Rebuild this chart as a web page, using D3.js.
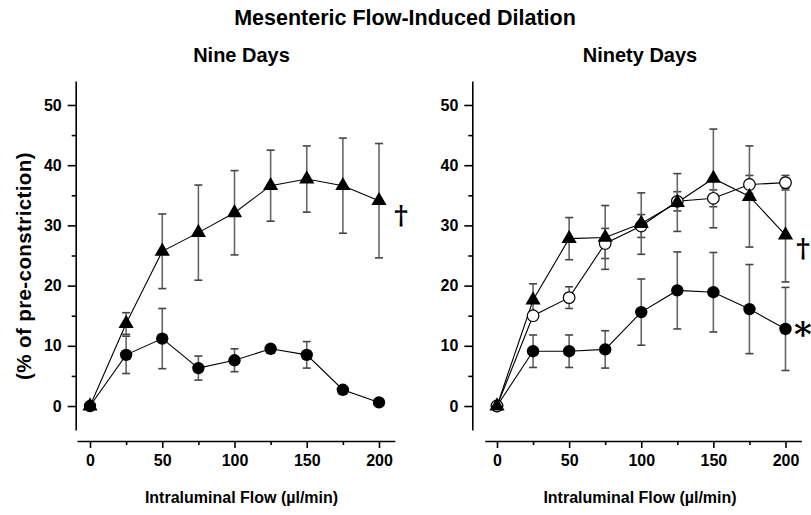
<!DOCTYPE html>
<html>
<head>
<meta charset="utf-8">
<script src="https://cdn.jsdelivr.net/npm/d3@7"></script>
<style>
  html, body { margin: 0; padding: 0; background: #fff; }
  svg { display: block; font-family: "Liberation Sans", Arial, sans-serif; }
  .axis path, .axis line { stroke: #000; stroke-width: 1.6; }
  .axis text { font-size: 16px; font-weight: bold; fill: #000; }
</style>
</head>
<body>
<svg id="chart" width="811" height="515"></svg>
<script>
// ---- data ----
const flows = [0, 25, 50, 75, 100, 125, 150, 175, 200];
const xTickValues = [0, 50, 100, 150, 200];
const xMinorValues = [25, 75, 125, 175];
const yTickValues = [0, 10, 20, 30, 40, 50];
const yMinorValues = [5, 15, 25, 35, 45];

// Nine days
const nineTriMean  = [0, 13.7, 25.7, 28.8, 32.1, 36.6, 37.7, 36.6, 34.1];
const nineTriErr   = [0, 1.8, 6.2, 7.9, 7.0, 5.9, 5.5, 7.9, 9.5];
const nineCircMean = [0, 8.5, 11.2, 6.3, 7.6, 9.5, 8.5, 2.7, 0.6];
const nineCircErr  = [0, 3.1, 5.0, 2.0, 1.9, 0.6, 2.2, 0.5, 0.6];

// Ninety days
const ninetyTriMean  = [0, 17.6, 27.8, 28.0, 30.3, 33.8, 37.8, 34.8, 28.4];
const ninetyTriErr   = [0, 2.7, 3.5, 5.3, 5.1, 4.8, 8.2, 8.4, 7.8];
const ninetyOpenMean = [0, 15.0, 18.0, 27.0, 29.9, 34.0, 34.5, 36.8, 37.1];
const ninetyOpenErr  = [0, 0.6, 1.8, 2.5, 1.9, 1.6, 1.4, 1.5, 1.2];
const ninetyCircMean = [0, 9.1, 9.1, 9.4, 15.6, 19.2, 18.9, 16.1, 12.8];
const ninetyCircErr  = [0, 2.7, 2.7, 3.1, 5.5, 6.4, 6.6, 7.4, 6.9];

const title = "Mesenteric Flow-Induced Dilation";
const panelTitles = ["Nine Days", "Ninety Days"];
const xTitle = "Intraluminal Flow (\u00b5l/min)";
const yTitle = "(% of pre-constriction)";

// ---- layout ----
const svg = d3.select("#chart");
const yScale = d3.scaleLinear().domain([-4, 54]).range([430.1, 80.9]);
const xAxisY = 441;

const panels = [
  { x0: 90, x200: 379, yAxisX: 75.7, lo: -9, hi: 211, title: panelTitles[0], titleX: 241.5,
    series: [
      { mean: nineTriMean, err: nineTriErr, shape: "tri" },
      { mean: nineCircMean, err: nineCircErr, shape: "circle" }
    ],
    marks: [ { text: "\u2020", x: 401, y: 224, size: 26 } ]
  },
  { x0: 497, x200: 785.5, yAxisX: 472.3, lo: -8.5, hi: 211, title: panelTitles[1], titleX: 640,
    series: [
      { mean: ninetyCircMean, err: ninetyCircErr, shape: "circle" },
      { mean: ninetyOpenMean, err: ninetyOpenErr, shape: "open" },
      { mean: ninetyTriMean, err: ninetyTriErr, shape: "tri" }
    ],
    marks: [ { text: "\u2020", x: 803, y: 257, size: 26 },
             { text: "*", x: 803, y: 346, size: 34 } ]
  }
];

svg.append("text")
  .attr("x", 405).attr("y", 25)
  .attr("text-anchor", "middle")
  .style("font-size", "21.5px").style("font-weight", "bold")
  .text(title);

panels.forEach(p => {
  const slope = (p.x200 - p.x0) / 200;
  const xScale = d3.scaleLinear().domain([p.lo, p.hi])
    .range([p.x0 + p.lo * slope, p.x0 + p.hi * slope]);
  const g = svg.append("g");

  // panel title
  g.append("text")
    .attr("x", p.titleX).attr("y", 62)
    .attr("text-anchor", "middle")
    .style("font-size", "20px").style("font-weight", "bold")
    .text(p.title);

  // y axis
  g.append("g").attr("class", "axis")
    .attr("transform", `translate(${p.yAxisX},0)`)
    .call(d3.axisLeft(yScale).tickValues(yTickValues).tickSize(8).tickPadding(6).tickSizeOuter(0));
  g.append("g").attr("class", "axis")
    .attr("transform", `translate(${p.yAxisX},0)`)
    .call(d3.axisLeft(yScale).tickValues(yMinorValues).tickSize(4).tickFormat("").tickSizeOuter(0))
    .select(".domain").remove();

  // x axis
  g.append("g").attr("class", "axis")
    .attr("transform", `translate(0,${xAxisY})`)
    .call(d3.axisBottom(xScale).tickValues(xTickValues).tickSize(7).tickPadding(7).tickSizeOuter(0));
  g.append("g").attr("class", "axis")
    .attr("transform", `translate(0,${xAxisY})`)
    .call(d3.axisBottom(xScale).tickValues(xMinorValues).tickSize(4).tickFormat("").tickSizeOuter(0))
    .select(".domain").remove();

  // x title
  g.append("text")
    .attr("x", p.titleX).attr("y", 503)
    .attr("text-anchor", "middle")
    .style("font-size", "16px").style("font-weight", "bold")
    .text(xTitle);

  // error bars
  p.series.forEach(s => {
    const eb = g.append("g");
    flows.forEach((f, i) => {
      if (s.err[i] <= 0) return;
      const x = xScale(f), y1 = yScale(s.mean[i] + s.err[i]), y2 = yScale(s.mean[i] - s.err[i]);
      eb.append("line").attr("x1", x).attr("x2", x).attr("y1", y1).attr("y2", y2)
        .attr("stroke", "#666").attr("stroke-width", 1.6);
      [y1, y2].forEach(yy => eb.append("line")
        .attr("x1", x - 4).attr("x2", x + 4).attr("y1", yy).attr("y2", yy)
        .attr("stroke", "#444").attr("stroke-width", 1.6));
    });
  });

  // lines
  const line = d3.line().x((d, i) => xScale(flows[i])).y(d => yScale(d));
  p.series.forEach(s => {
    g.append("path").attr("d", line(s.mean))
      .attr("fill", "none").attr("stroke", "#000").attr("stroke-width", 1.1);
  });

  // markers
  p.series.forEach(s => {
    const mg = g.append("g");
    s.mean.forEach((v, i) => {
      const cx = xScale(flows[i]), cy = yScale(v);
      if (s.shape === "tri") {
        mg.append("path").attr("d", d3.symbol(d3.symbolTriangle, 100)())
          .attr("transform", `translate(${cx},${cy})`).attr("fill", "#000");
      } else if (s.shape === "circle") {
        mg.append("circle").attr("cx", cx).attr("cy", cy).attr("r", 6.2).attr("fill", "#000");
      } else {
        mg.append("circle").attr("cx", cx).attr("cy", cy).attr("r", 5.8)
          .attr("fill", "#fff").attr("stroke", "#000").attr("stroke-width", 1.2);
      }
    });
  });

  // significance marks
  p.marks.forEach(m => {
    g.append("text").attr("x", m.x).attr("y", m.y)
      .attr("text-anchor", "middle")
      .style("font-family", "'DejaVu Serif', 'Liberation Serif', serif")
      .style("font-size", m.size + "px").style("font-weight", "bold")
      .text(m.text);
  });
});

// y title
svg.append("text")
  .attr("transform", "translate(31,266) rotate(-90)")
  .attr("text-anchor", "middle")
  .style("font-size", "20.5px").style("font-weight", "bold")
  .style("letter-spacing", "0.4px")
  .text(yTitle);
</script>
</body>
</html>
